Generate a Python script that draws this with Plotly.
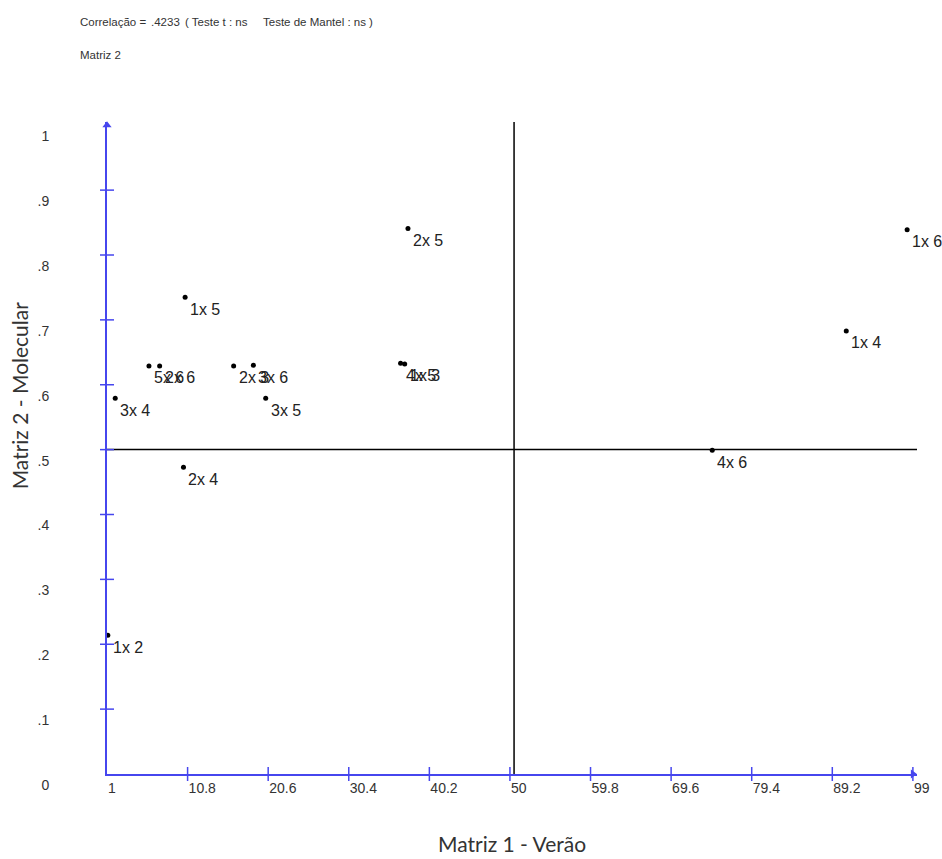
import plotly.graph_objects as go

# ---- data ----
pair_labels = ["1x 2", "3x 4", "1x 5", "5x 6", "2x 6", "2x 3", "3x 6", "3x 5",
               "2x 4", "2x 5", "4x 5", "1x 3", "4x 6", "1x 4", "1x 6"]
matriz1_verao = [1.1, 2.0, 10.5, 6.1, 7.4, 16.4, 18.8, 20.3,
                 10.3, 37.6, 36.7, 37.2, 74.6, 90.9, 98.3]
matriz2_molecular = [0.214, 0.579, 0.735, 0.629, 0.629, 0.629, 0.630, 0.579,
                     0.473, 0.841, 0.633, 0.632, 0.499, 0.683, 0.839]

x_tick_vals = [1, 10.8, 20.6, 30.4, 40.2, 50, 59.8, 69.6, 79.4, 89.2, 99]
x_tick_text = ["1", "10.8", "20.6", "30.4", "40.2", "50", "59.8", "69.6", "79.4", "89.2", "99"]
y_tick_vals = [0, .1, .2, .3, .4, .5, .6, .7, .8, .9, 1]
y_tick_text = ["0", ".1", ".2", ".3", ".4", ".5", ".6", ".7", ".8", ".9", "1"]

x_center = 50.5
y_center = 0.5
correlacao = ".4233"

BLUE = "#4646ee"
TXT = "#333333"
TICKFONT = "Liberation Sans, Arial, sans-serif"
LABFONT = "Liberation Sans, Arial, sans-serif"
TITLEFONT = "Lato, Carlito, Calibri, sans-serif"

W, H = 942, 859
ML, MR, MT, MB = 107, 22, 122, 85

fig = go.Figure()

# axis tick marks (crossing the axis lines)
fig.add_trace(go.Scatter(
    x=x_tick_vals[1:], y=[0] * (len(x_tick_vals) - 1), mode="markers",
    marker=dict(symbol="line-ns", size=10, line=dict(color=BLUE, width=1.5)),
    hoverinfo="skip", cliponaxis=False, showlegend=False))
fig.add_trace(go.Scatter(
    x=[1] * (len(y_tick_vals) - 2), y=y_tick_vals[1:-1], mode="markers",
    marker=dict(symbol="line-ew", size=10, line=dict(color=BLUE, width=1.5)),
    hoverinfo="skip", cliponaxis=False, showlegend=False))
# arrow heads
fig.add_trace(go.Scatter(
    x=[x_tick_vals[-1]], y=[0], mode="markers",
    marker=dict(symbol="triangle-right", size=8, color=BLUE),
    hoverinfo="skip", cliponaxis=False, showlegend=False))
fig.add_trace(go.Scatter(
    x=[1], y=[y_tick_vals[-1]], mode="markers",
    marker=dict(symbol="triangle-up", size=8, color=BLUE),
    hoverinfo="skip", cliponaxis=False, showlegend=False))

# points
fig.add_trace(go.Scatter(
    x=matriz1_verao, y=matriz2_molecular, mode="markers",
    marker=dict(size=5, color="black"),
    text=pair_labels, hovertemplate="%{text}<br>%{x}, %{y}<extra></extra>",
    cliponaxis=False, showlegend=False))

# point labels
for lab, xv, yv in zip(pair_labels, matriz1_verao, matriz2_molecular):
    fig.add_annotation(x=xv, y=yv, text=lab, showarrow=False,
                       xanchor="left", yanchor="middle", xshift=3, yshift=-12,
                       font=dict(family=LABFONT, size=16, color="#222222"))

# quadrant lines
fig.add_shape(type="line", x0=x_center, x1=x_center, y0=0, y1=1.01,
              line=dict(color="black", width=1.5), layer="below")
fig.add_shape(type="line", x0=1, x1=99.5, y0=y_center, y1=y_center,
              line=dict(color="black", width=1.5), layer="below")

fig.update_layout(
    width=W, height=H,
    margin=dict(l=ML, r=MR, t=MT, b=MB),
    paper_bgcolor="white", plot_bgcolor="white",
    xaxis=dict(range=[1, 99.5], showgrid=False, zeroline=False,
               showline=True, linecolor=BLUE, linewidth=2,
               tickvals=x_tick_vals, ticktext=x_tick_text, ticks="",
               ticklabelposition="outside right",
               tickfont=dict(family=TICKFONT, size=14, color=TXT)),
    yaxis=dict(range=[0, 1.005], showgrid=False, zeroline=False,
               showline=True, linecolor=BLUE, linewidth=2,
               tickvals=y_tick_vals, ticktext=y_tick_text, ticks="",
               ticklabelshift=11, ticklabelstandoff=53,
               tickfont=dict(family=TICKFONT, size=14, color=TXT)),
)

pw, ph = W - ML - MR, H - MT - MB


def px(xp):
    return (xp - ML) / pw


def py(yp):
    return (H - MB - yp) / ph


header = [
    ("Correlação =", 78), (correlacao, 149), ("( Teste t : ns", 183),
    ("Teste de Mantel : ns )", 262),
]
for t, xp in header:
    fig.add_annotation(text=t, x=px(xp), y=py(22), xref="paper", yref="paper",
                       xanchor="left", yanchor="middle", showarrow=False,
                       font=dict(family=TICKFONT, size=11.5, color=TXT))
fig.add_annotation(text="Matriz 2", x=px(78), y=py(55), xref="paper", yref="paper",
                   xanchor="left", yanchor="middle", showarrow=False,
                   font=dict(family=TICKFONT, size=11.5, color=TXT))
fig.add_annotation(text="Matriz 1 - Verão", x=px(513), y=py(843), xref="paper",
                   yref="paper", xanchor="center", yanchor="middle", showarrow=False,
                   font=dict(family=TITLEFONT, size=21, color=TXT))
fig.add_annotation(text="Matriz 2 - Molecular", x=px(19), y=py(395), xref="paper",
                   yref="paper", xanchor="center", yanchor="middle", showarrow=False,
                   textangle=-90,
                   font=dict(family=TITLEFONT, size=21, color=TXT))

fig.write_html("out.html")
